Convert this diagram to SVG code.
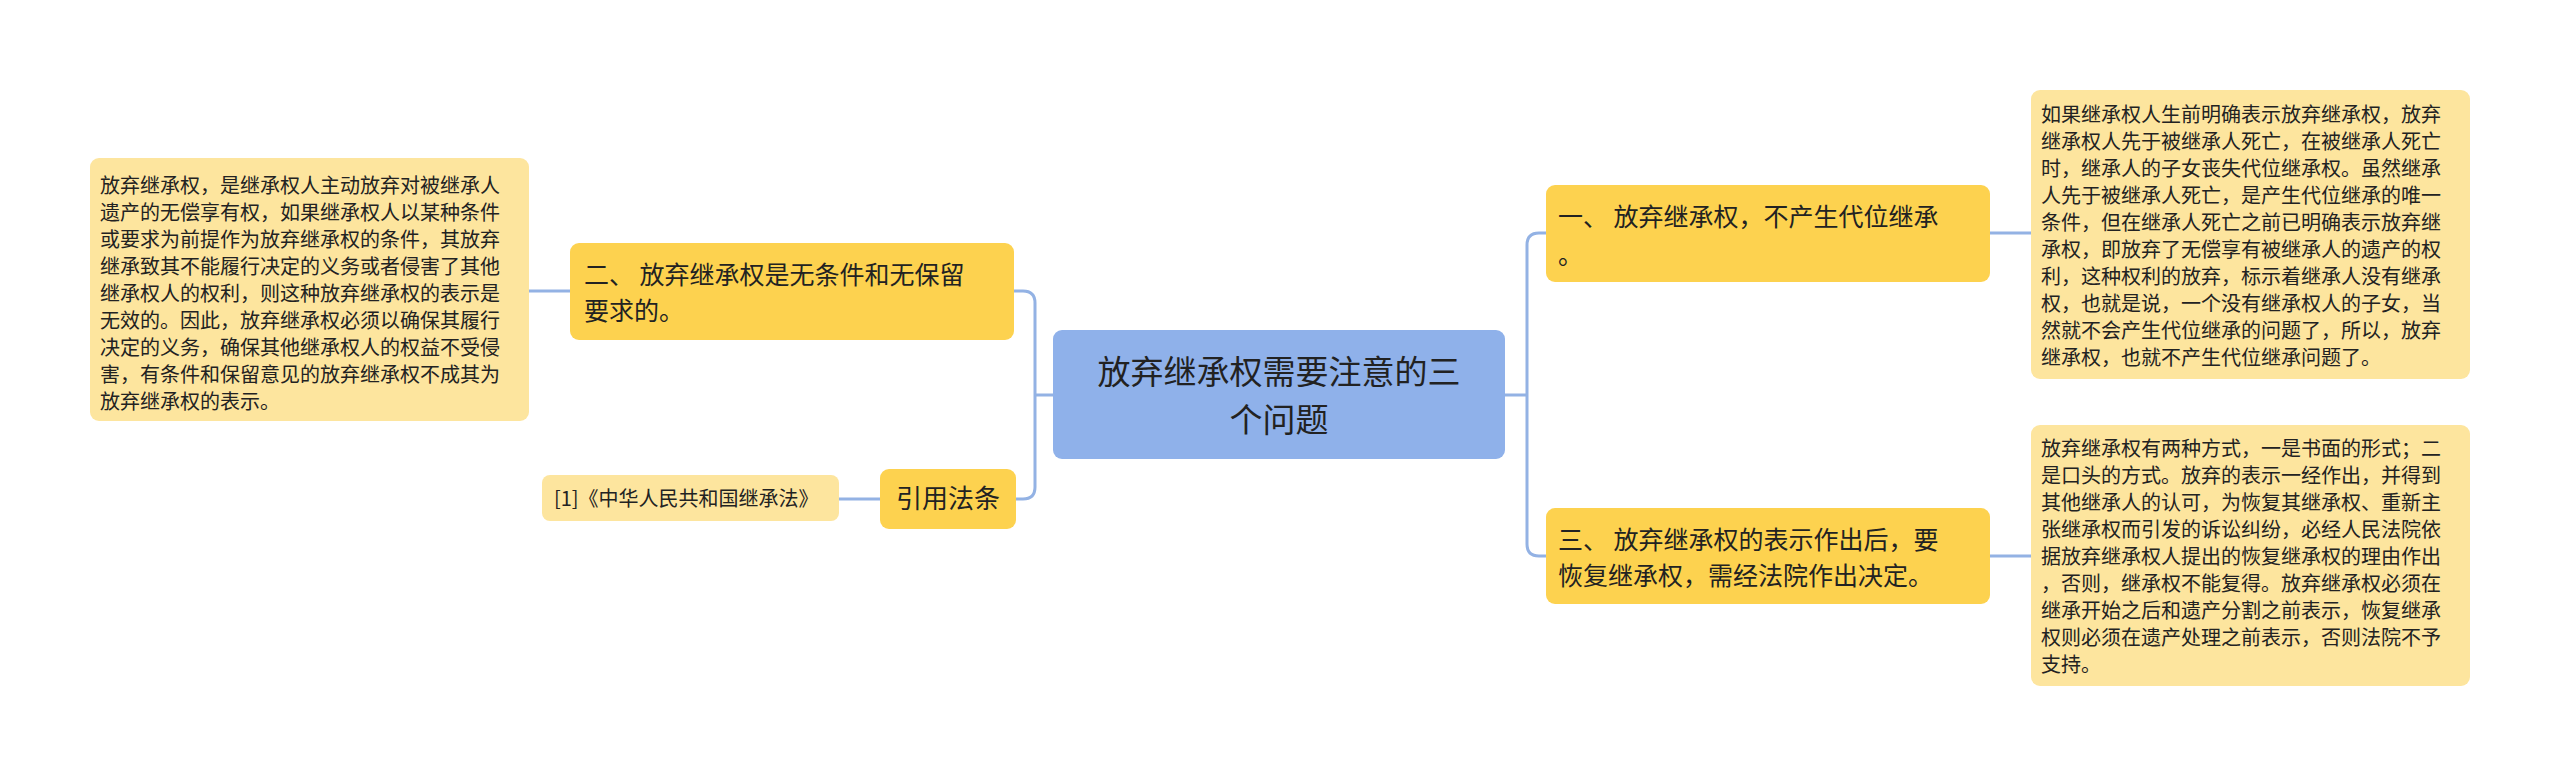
<svg xmlns="http://www.w3.org/2000/svg" width="2560" height="777" viewBox="0 0 2560 777">
<style>
text{font-family:"Noto Sans CJK SC","Liberation Sans",sans-serif;fill:#222}
.main{fill:#fdd24f}
.leaf{fill:#fde59e}
.c{fill:none;stroke:#93b2e4;stroke-width:3}
.t{font-size:25px}
.s{font-size:20px}
</style>
<rect width="2560" height="777" fill="#fff"/>
<g id="connectors">
<path class="c" d="M1053,395 H1035 M1014,291 H1023 Q1035,291 1035,303 V487 Q1035,499 1023,499 H1016"/>
<path class="c" d="M1505,395 H1527 M1546,233 H1539 Q1527,233 1527,245 V544 Q1527,556 1539,556 H1546"/>
<path class="c" d="M570,291 H529 M880,499 H839 M1990,233 H2031 M1990,556 H2031"/>
</g>
<g id="center">
<rect x="1053" y="330" width="452" height="129" rx="9" fill="#8fb1ea"/>
<text x="1279" y="384" font-size="33" text-anchor="middle">放弃继承权需要注意的三</text>
<text x="1279" y="432" font-size="33" text-anchor="middle">个问题</text>
</g>
<g id="n2">
<rect class="main" x="570" y="243" width="444" height="97" rx="9"/>
<text class="t" x="584" y="284">二、 放弃继承权是无条件和无保留</text>
<text class="t" x="584" y="320">要求的。</text>
</g>
<g id="n2leaf">
<rect class="leaf" x="90" y="158" width="439" height="263" rx="9"/>
<text class="s" x="100" y="193">放弃继承权，是继承权人主动放弃对被继承人</text>
<text class="s" x="100" y="220">遗产的无偿享有权，如果继承权人以某种条件</text>
<text class="s" x="100" y="247">或要求为前提作为放弃继承权的条件，其放弃</text>
<text class="s" x="100" y="274">继承致其不能履行决定的义务或者侵害了其他</text>
<text class="s" x="100" y="301">继承权人的权利，则这种放弃继承权的表示是</text>
<text class="s" x="100" y="328">无效的。因此，放弃继承权必须以确保其履行</text>
<text class="s" x="100" y="355">决定的义务，确保其他继承权人的权益不受侵</text>
<text class="s" x="100" y="382">害，有条件和保留意见的放弃继承权不成其为</text>
<text class="s" x="100" y="409">放弃继承权的表示。</text>
</g>
<g id="ref">
<rect class="main" x="880" y="469" width="136" height="60" rx="9"/>
<text x="948" y="508" font-size="26" text-anchor="middle">引用法条</text>
</g>
<g id="refleaf">
<rect class="leaf" x="542" y="475" width="297" height="46" rx="8"/>
<text x="554" y="506" font-size="20">[1]《中华人民共和国继承法》</text>
</g>
<g id="n1">
<rect class="main" x="1546" y="185" width="444" height="97" rx="9"/>
<text class="t" x="1558" y="226">一、 放弃继承权，不产生代位继承</text>
<text class="t" x="1558" y="264">。</text>
</g>
<g id="n1leaf">
<rect class="leaf" x="2031" y="90" width="439" height="289" rx="9"/>
<text class="s" x="2041" y="122">如果继承权人生前明确表示放弃继承权，放弃</text>
<text class="s" x="2041" y="149">继承权人先于被继承人死亡，在被继承人死亡</text>
<text class="s" x="2041" y="176">时，继承人的子女丧失代位继承权。虽然继承</text>
<text class="s" x="2041" y="203">人先于被继承人死亡，是产生代位继承的唯一</text>
<text class="s" x="2041" y="230">条件，但在继承人死亡之前已明确表示放弃继</text>
<text class="s" x="2041" y="257">承权，即放弃了无偿享有被继承人的遗产的权</text>
<text class="s" x="2041" y="284">利，这种权利的放弃，标示着继承人没有继承</text>
<text class="s" x="2041" y="311">权，也就是说，一个没有继承权人的子女，当</text>
<text class="s" x="2041" y="338">然就不会产生代位继承的问题了，所以，放弃</text>
<text class="s" x="2041" y="365">继承权，也就不产生代位继承问题了。</text>
</g>
<g id="n3">
<rect class="main" x="1546" y="508" width="444" height="96" rx="9"/>
<text class="t" x="1558" y="549">三、 放弃继承权的表示作出后，要</text>
<text class="t" x="1558" y="585">恢复继承权，需经法院作出决定。</text>
</g>
<g id="n3leaf">
<rect class="leaf" x="2031" y="425" width="439" height="261" rx="9"/>
<text class="s" x="2041" y="456">放弃继承权有两种方式，一是书面的形式；二</text>
<text class="s" x="2041" y="483">是口头的方式。放弃的表示一经作出，并得到</text>
<text class="s" x="2041" y="510">其他继承人的认可，为恢复其继承权、重新主</text>
<text class="s" x="2041" y="537">张继承权而引发的诉讼纠纷，必经人民法院依</text>
<text class="s" x="2041" y="564">据放弃继承权人提出的恢复继承权的理由作出</text>
<text class="s" x="2041" y="591">，否则，继承权不能复得。放弃继承权必须在</text>
<text class="s" x="2041" y="618">继承开始之后和遗产分割之前表示，恢复继承</text>
<text class="s" x="2041" y="645">权则必须在遗产处理之前表示，否则法院不予</text>
<text class="s" x="2041" y="672">支持。</text>
</g>
</svg>
